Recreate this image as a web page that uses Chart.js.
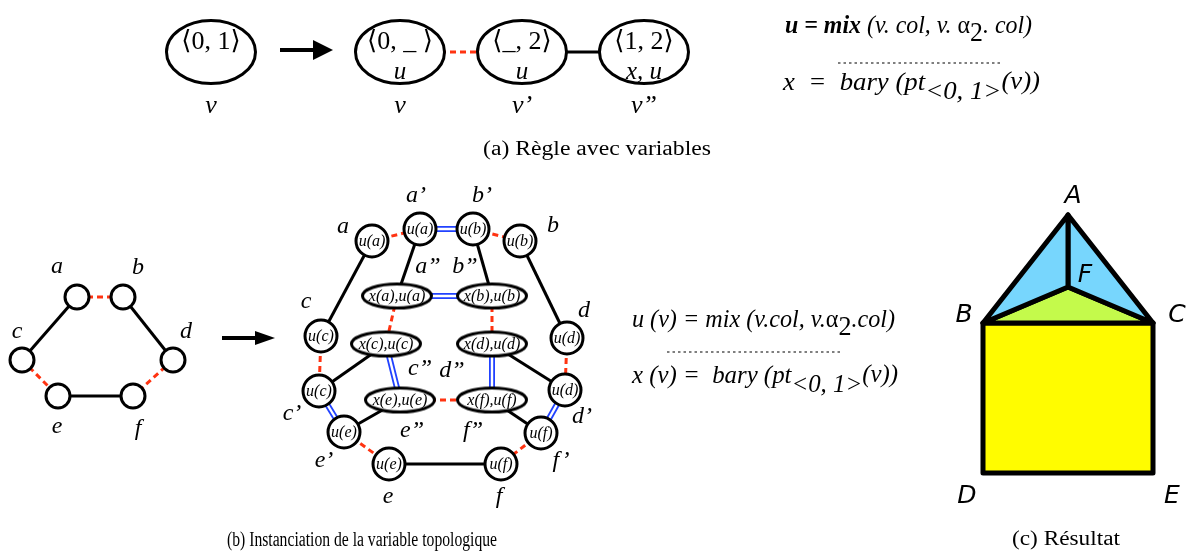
<!DOCTYPE html>
<html>
<head>
<meta charset="utf-8">
<title>Règle avec variables</title>
<script src="https://cdn.jsdelivr.net/npm/chart.js@4.4.1/dist/chart.umd.min.js"></script>
<style>
  html, body { margin: 0; padding: 0; background: #fff; }
  canvas { display: block; }
</style>
</head>
<body>
<canvas id="fig" width="1194" height="552"></canvas>
<script>
// ──────────────────────────────────────────────────────────────
// Data (figure coordinates, 1 unit = 1 px, y grows downwards)
// ──────────────────────────────────────────────────────────────
const W = 1194, H = 552;

// (a) rule with variables
const ruleTop = ["⟨0, 1⟩", "⟨0, _ ⟩", "⟨_, 2⟩", "⟨1, 2⟩"];
const ruleBottom = ["", "u", "u", "x, u"];
const ruleNames = ["v", "v", "v’", "v”"];
const ruleX = [211, 400, 522, 644];
const ruleY = [52, 52, 52, 52];
const ruleEdges = [[1, 2, "dash"], [2, 3, "solid"]];

// arrows (a) and (b)
const arrowFromX = [280, 222];
const arrowTipX = [333, 275];
const arrowY = [50, 338];

// (b) source graph
const srcNames = ["a", "b", "c", "d", "e", "f"];
const srcX = [77, 123, 22, 173, 58, 133];
const srcY = [297, 297, 360, 360, 396, 396];
const srcLabelX = [57, 138, 17, 186, 57, 138];
const srcLabelY = [273, 274, 338, 338, 433, 435];
const srcEdges = [
  ["a", "b", "dash"], ["a", "c", "solid"], ["b", "d", "solid"],
  ["c", "e", "dash"], ["d", "f", "dash"], ["e", "f", "solid"],
];

// (b) instantiated graph: copies with u(.)
const instNames = ["a", "a’", "b’", "b", "c", "d", "c’", "d’", "e’", "f’", "e", "f"];
const instText = ["u(a)", "u(a)", "u(b)", "u(b)", "u(c)", "u(d)", "u(c)", "u(d)", "u(e)", "u(f)", "u(e)", "u(f)"];
const instX = [372, 420, 473, 520, 321, 567, 319, 565, 344, 541, 389, 501];
const instY = [241, 229, 229, 241, 336, 338, 391, 390, 432, 433, 464, 464];
const instLabelX = [343, 416, 482, 553, 306, 584, 292, 582, 324, 561, 388, 499];
const instLabelY = [233, 202, 202, 232, 308, 317, 420, 423, 467, 467, 503, 503];

// (b) instantiated graph: copies with x(.),u(.)
const pairNames = ["a”", "b”", "c”", "d”", "e”", "f”"];
const pairText = ["x(a),u(a)", "x(b),u(b)", "x(c),u(c)", "x(d),u(d)", "x(e),u(e)", "x(f),u(f)"];
const pairX = [397, 492, 386, 492, 400, 492];
const pairY = [296, 296, 344, 344, 400, 400];
const pairLabelX = [428, 465, 420, 452, 412, 473];
const pairLabelY = [273, 273, 375, 377, 437, 437];

const instEdges = [
  ["a", "a’", "dash"], ["a’", "b’", "double"], ["b’", "b", "dash"],
  ["a", "c", "solid"], ["b", "d", "solid"],
  ["a’", "a”", "solid"], ["b’", "b”", "solid"],
  ["a”", "b”", "double"], ["a”", "c”", "dash"], ["b”", "d”", "dash"],
  ["c", "c’", "dash"], ["d", "d’", "dash"],
  ["c”", "e”", "double"], ["d”", "f”", "double"],
  ["c’", "c”", "solid"], ["d’", "d”", "solid"],
  ["e”", "f”", "dash"],
  ["c’", "e’", "double"], ["d’", "f’", "double"],
  ["e’", "e”", "solid"], ["f’", "f”", "solid"],
  ["e’", "e", "dash"], ["f’", "f", "dash"], ["e", "f", "solid"],
];

// (c) result
const vtxNames = ["A", "B", "C", "D", "E", "F"];
const vtxX = [1068, 983, 1153, 983, 1153, 1068];
const vtxY = [215, 323, 323, 473, 473, 287];
const vtxLabelX = [1073, 964, 1177, 967, 1172, 1085];
const vtxLabelY = [203, 322, 322, 503, 503, 282];
const faces = [["A", "B", "F"], ["A", "F", "C"], ["B", "F", "C"], ["B", "C", "E", "D"]];
const faceColors = ["#77d6fd", "#77d6fd", "#c4fa4b", "#fffc00"];

// dotted separators in the formulas
const ruleFromX = [838, 667];
const ruleToX = [1000, 843];
const ruleLineY = [63, 352];

// ──────────────────────────────────────────────────────────────
// Styles
// ──────────────────────────────────────────────────────────────
const SERIF = '"Liberation Serif", "DejaVu Serif", serif';
const SANS = '"DejaVu Sans", sans-serif';
const RED = "#ff3311";
const BLUE = "#2142ff";

function makeOval(rx, ry, lw) {
  const c = document.createElement("canvas");
  c.width = Math.ceil(2 * rx + lw + 2);
  c.height = Math.ceil(2 * ry + lw + 2);
  const g = c.getContext("2d");
  g.beginPath();
  g.ellipse(c.width / 2, c.height / 2, rx, ry, 0, 0, Math.PI * 2);
  g.fillStyle = "#fff";
  g.fill();
  g.lineWidth = lw;
  g.strokeStyle = "#000";
  g.stroke();
  return c;
}

function makeHead(len, half) {
  const c = document.createElement("canvas");
  c.width = len;
  c.height = half * 2;
  const g = c.getContext("2d");
  g.beginPath();
  g.moveTo(0, 0);
  g.lineTo(len, half);
  g.lineTo(0, half * 2);
  g.closePath();
  g.fillStyle = "#000";
  g.fill();
  return c;
}

const bigOval = makeOval(44.5, 31.5, 3);
const pairOval = makeOval(34.5, 12, 3);
const headSizes = [[20, 10], [20, 7]];

// ──────────────────────────────────────────────────────────────
// Datasets
// ──────────────────────────────────────────────────────────────
const pt = (x, y) => ({ x, y });
const srcAt = n => { const i = srcNames.indexOf(n); return pt(srcX[i], srcY[i]); };
const instAt = n => {
  let i = instNames.indexOf(n);
  if (i >= 0) return pt(instX[i], instY[i]);
  i = pairNames.indexOf(n);
  return pt(pairX[i], pairY[i]);
};
const vtxAt = n => { const i = vtxNames.indexOf(n); return pt(vtxX[i], vtxY[i]); };

function edgeSets(edges, at) {
  const out = [];
  for (const [a, b, kind] of edges) {
    const base = { data: [at(a), at(b)], showLine: true, pointRadius: 0, fill: false, order: 6 };
    if (kind === "solid") out.push({ ...base, borderColor: "#000", borderWidth: 3 });
    if (kind === "dash") out.push({ ...base, borderColor: RED, borderWidth: 3, borderDash: [6, 4] });
    if (kind === "double") {
      out.push({ ...base, borderColor: BLUE, borderWidth: 6 });
      out.push({ ...base, borderColor: "#fff", borderWidth: 2.4, order: 5 });
    }
  }
  return out;
}

const datasets = [];

// (c) faces, drawn first (bottom)
faces.forEach((f, i) => {
  datasets.push({
    data: [...f, f[0]].map(vtxAt),
    showLine: true,
    fill: "shape",
    backgroundColor: faceColors[i],
    borderColor: "#000",
    borderWidth: 5,
    borderJoinStyle: "round",
    borderCapStyle: "round",
    pointRadius: 0,
    order: 7,
  });
});

// edges
datasets.push(...edgeSets(ruleEdges, i => pt(ruleX[i], ruleY[i])));
datasets.push(...edgeSets(srcEdges, srcAt));
datasets.push(...edgeSets(instEdges, instAt));

// arrows
arrowY.forEach((y, i) => {
  const [len] = headSizes[i];
  datasets.push({
    data: [pt(arrowFromX[i], y), pt(arrowTipX[i] - len + 1, y)],
    showLine: true, pointRadius: 0, borderColor: "#000", borderWidth: 4, order: 6,
  });
});
datasets.push({
  data: arrowY.map((y, i) => pt(arrowTipX[i] - headSizes[i][0] / 2, y)),
  pointStyle: headSizes.map(([l, h]) => makeHead(l, h)),
  pointRadius: 10,
  order: 1,
});

// nodes
datasets.push({
  data: ruleX.map((x, i) => pt(x, ruleY[i])),
  pointStyle: bigOval, pointRadius: 10, order: 1,
});
datasets.push({
  data: srcX.map((x, i) => pt(x, srcY[i])),
  pointStyle: "circle", pointRadius: 12,
  pointBackgroundColor: "#fff", pointBorderColor: "#000", pointBorderWidth: 3, order: 1,
});
datasets.push({
  data: instX.map((x, i) => pt(x, instY[i])),
  pointStyle: "circle", pointRadius: 16,
  pointBackgroundColor: "#fff", pointBorderColor: "#000", pointBorderWidth: 3, order: 1,
});
datasets.push({
  data: pairX.map((x, i) => pt(x, pairY[i])),
  pointStyle: pairOval, pointRadius: 10, order: 1,
});

// dotted separators
ruleLineY.forEach((y, i) => {
  datasets.push({
    data: [pt(ruleFromX[i], y), pt(ruleToX[i], y)],
    showLine: true, pointRadius: 0, borderColor: "#000", borderWidth: 1.2,
    borderDash: [2.5, 3], order: 6,
  });
});

// ──────────────────────────────────────────────────────────────
// Text
// ──────────────────────────────────────────────────────────────
const texts = [];
const one = (t, f) => [{ t, f }];
const label = (t, f, x, y) => texts.push({ parts: one(t, f), x, y, align: "center" });

ruleX.forEach((x, i) => {
  label(ruleTop[i], `26px ${SERIF}`, x, ruleY[i] - 3);
  if (ruleBottom[i]) label(ruleBottom[i], `italic 25px ${SERIF}`, x, ruleY[i] + 27);
  label(ruleNames[i], `italic 26px ${SERIF}`, x, ruleY[i] + 61);
});
srcNames.forEach((n, i) => label(n, `italic 24px ${SERIF}`, srcLabelX[i], srcLabelY[i]));
instNames.forEach((n, i) => {
  label(instText[i], `italic 16px ${SERIF}`, instX[i], instY[i] + 5);
  label(n, `italic 24px ${SERIF}`, instLabelX[i], instLabelY[i]);
});
pairNames.forEach((n, i) => {
  label(pairText[i], `italic 16px ${SERIF}`, pairX[i], pairY[i] + 5);
  label(n, `italic 24px ${SERIF}`, pairLabelX[i], pairLabelY[i]);
});
vtxNames.forEach((n, i) => label(n, `italic 25px ${SANS}`, vtxLabelX[i], vtxLabelY[i]));

const it = `italic 25px ${SERIF}`;
const up = `25px ${SERIF}`;
texts.push({ x: 785, y: 33, w: 247, parts: [
  { t: "u = mix ", f: `italic bold 25px ${SERIF}` },
  { t: "(v. col, v. ", f: it },
  { t: "α", f: up },
  { t: "2", f: `27px ${SERIF}`, dy: 8 },
  { t: ". col)", f: it },
]});
texts.push({ x: 783, y: 90, w: 257, parts: [
  { t: "x  =  bary (pt", f: it },
  { t: "<0, 1>", f: it, dy: 9 },
  { t: "(v))", f: it, dy: -1 },
]});
texts.push({ x: 632, y: 327, w: 263, parts: [
  { t: "u (v) = mix (v.col, v.", f: it },
  { t: "α", f: up },
  { t: "2", f: `27px ${SERIF}`, dy: 8 },
  { t: ".col)", f: it },
]});
texts.push({ x: 632, y: 383, w: 266, parts: [
  { t: "x (v) =  bary (pt", f: it },
  { t: "<0, 1>", f: it, dy: 9 },
  { t: "(v))", f: it, dy: -1 },
]});

const CAP = `20px ${SERIF}`;
texts.push({ parts: one("(a) Règle avec variables", CAP), x: 597, y: 155, w: 228, align: "center" });
texts.push({ parts: one("(b) Instanciation de la variable topologique", CAP), x: 362, y: 546, w: 270, align: "center" });
texts.push({ parts: one("(c) Résultat", CAP), x: 1066, y: 545, w: 108, align: "center" });

function drawRich(ctx, parts, x, y, width, align) {
  let total = 0;
  for (const p of parts) { ctx.font = p.f; p.w = ctx.measureText(p.t).width; total += p.w; }
  const k = width ? width / total : 1;
  const x0 = align === "center" ? x - (total * k) / 2 : x;
  ctx.save();
  ctx.translate(x0, y);
  ctx.scale(k, 1);
  let cx = 0;
  for (const p of parts) {
    ctx.font = p.f;
    ctx.fillText(p.t, cx, p.dy || 0);
    cx += p.w;
  }
  ctx.restore();
}

const textPlugin = {
  id: "figureText",
  afterDatasetsDraw(chart) {
    const { ctx, scales } = chart;
    ctx.save();
    ctx.fillStyle = "#000";
    ctx.textAlign = "left";
    ctx.textBaseline = "alphabetic";
    for (const t of texts) {
      const px = scales.x.getPixelForValue(t.x);
      const py = scales.y.getPixelForValue(t.y);
      drawRich(ctx, t.parts, px, py, t.w, t.align);
    }
    ctx.restore();
  },
};

// ──────────────────────────────────────────────────────────────
// Chart
// ──────────────────────────────────────────────────────────────
new Chart(document.getElementById("fig"), {
  type: "scatter",
  data: { datasets },
  options: {
    responsive: false,
    animation: false,
    events: [],
    layout: { padding: 0, autoPadding: false },
    scales: {
      x: { type: "linear", min: 0, max: W, display: false },
      y: { type: "linear", min: 0, max: H, reverse: true, display: false },
    },
    plugins: {
      legend: { display: false },
      tooltip: { enabled: false },
      title: { display: false },
    },
  },
  plugins: [textPlugin],
});
</script>
</body>
</html>
